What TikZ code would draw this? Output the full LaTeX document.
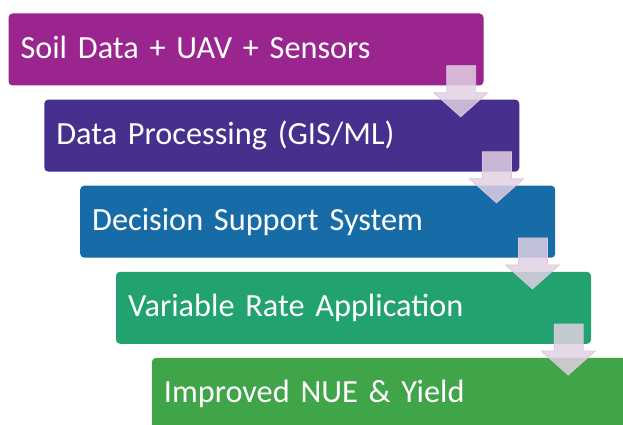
\documentclass[tikz,border=0pt]{standalone}
\usepackage{fontspec}
\setmainfont{Carlito}
\usetikzlibrary{calc}
\definecolor{soilpurple}{HTML}{9A258E}
\definecolor{procviolet}{HTML}{472F8D}
\definecolor{decblue}{HTML}{176BA6}
\definecolor{vrateteal}{HTML}{21A26F}
\definecolor{yieldgreen}{HTML}{40A449}
\definecolor{arrowfill}{HTML}{E2D1E4}
\definecolor{arrowedge}{HTML}{DCC6DF}
\begin{document}
\begin{tikzpicture}[x=1pt,y=-1pt,
  stepbox/.style={anchor=north west, rounded corners=4pt, minimum width=475pt,
    minimum height=72pt, text width=451pt, inner xsep=12pt, align=left,
    text height=24pt, text depth=6.6pt, text=white,
    font=\fontsize{32.3}{38}\selectfont},
  flowarrow/.style={fill=arrowfill, fill opacity=0.84, draw=arrowedge, line width=0.8pt}]
  \clip (0,0) rectangle (623,425);
  \node[stepbox, fill=soilpurple] (b1) at (8.3,13.3) {Soil Data + UAV + Sensors};
  \node[stepbox, fill=procviolet] (b2) at (44.1,99.4) {Data Processing (GIS/ML)};
  \node[stepbox, fill=decblue] (b3) at (80,185.5) {Decision Support System};
  \node[stepbox, fill=vrateteal] (b4) at (115.8,271.6) {Variable Rate Application};
  \node[stepbox, fill=yieldgreen] (b5) at (151.7,357.7) {Improved NUE \& Yield};
  % block arrows hanging from each box into the next one
  \foreach \n in {1,...,4}
    \draw[flowarrow] ($(b\n.south east)+(-37,-20)$) -- ($(b\n.south east)+(-8,-20)$)
      -- ($(b\n.south east)+(-8,7)$) -- ($(b\n.south east)+(4,7)$)
      -- ($(b\n.south east)+(-23,31)$) -- ($(b\n.south east)+(-50,7)$)
      -- ($(b\n.south east)+(-37,7)$) -- cycle;
\end{tikzpicture}
\end{document}
